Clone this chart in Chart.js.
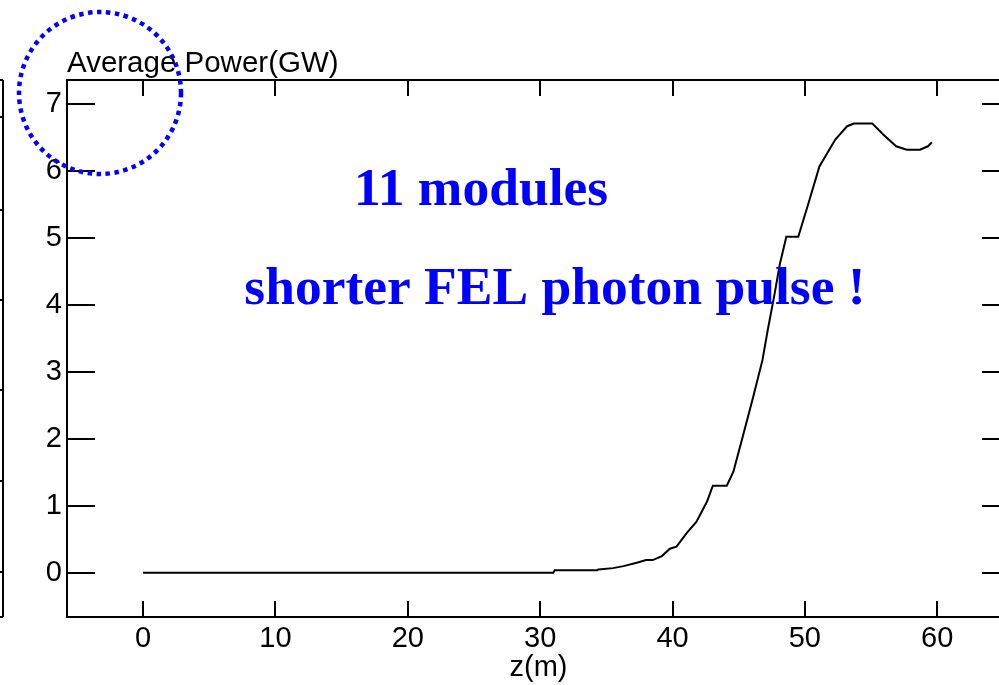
<!DOCTYPE html>
<html>
<head>
<meta charset="utf-8">
<script src="https://cdn.jsdelivr.net/npm/chart.js@4.4.1/dist/chart.umd.min.js"></script>
<style>
    html, body { margin: 0; padding: 0; background: #fff; overflow: hidden; }
    #wrap { width: 999px; height: 685px; overflow: hidden; position: relative; }
    #powerCanvas { position: absolute; left: 0; top: 0; }
</style>
</head>
<body>
<div id="wrap"><canvas id="powerCanvas" width="1012" height="685"></canvas></div>
<script>
// z position along the undulator (m)
const zValues = [0, 31, 31.1, 34.3, 34.4, 35.5, 36.3, 37.3, 38, 38.5, 39.2, 39.8, 40.3, 41.1, 41.8,
    42.6, 43.05, 44.1, 44.6, 45.3, 46.1, 46.8, 47.2, 47.7, 48.1, 48.6, 49.5, 50.2, 51.1, 52.3, 53.2,
    53.7, 55.1, 55.9, 56.9, 57.7, 58.7, 59.3, 59.6];
// average power (GW)
const powerValues = [0, 0, 0.04, 0.04, 0.05, 0.07, 0.1, 0.15, 0.19, 0.19, 0.25, 0.36, 0.39, 0.6, 0.76,
    1.06, 1.3, 1.3, 1.51, 2.03, 2.63, 3.18, 3.63, 4.15, 4.6, 5.02, 5.02, 5.47, 6.07, 6.47, 6.67,
    6.71, 6.71, 6.55, 6.37, 6.32, 6.32, 6.37, 6.43];
const xTickValues = [0, 10, 20, 30, 40, 50, 60];
const yTickValues = [0, 1, 2, 3, 4, 5, 6, 7];
const yAxisTitle = 'Average Power(GW)';
const xAxisTitle = 'z(m)';
const noteLines = ['11 modules', 'shorter FEL photon pulse !'];

const sansFont = 'Liberation Sans, Arial, sans-serif';

// frame, inward ticks, notes and the dotted circle
const framePlugin = {
    id: 'frame',
    afterDraw: function (chart) {
        const ctx = chart.ctx;
        const area = chart.chartArea;
        const xs = chart.scales.x;
        const ys = chart.scales.y;
        ctx.save();
        ctx.strokeStyle = '#000';
        ctx.lineWidth = 2;
        ctx.strokeRect(area.left, area.top, area.right - area.left, area.bottom - area.top);

        ctx.beginPath();
        xTickValues.forEach(function (v) {
            const px = Math.round(xs.getPixelForValue(v));
            ctx.moveTo(px, area.bottom); ctx.lineTo(px, area.bottom - 16);
            ctx.moveTo(px, area.top); ctx.lineTo(px, area.top + 16);
        });
        yTickValues.forEach(function (v) {
            const py = Math.round(ys.getPixelForValue(v));
            ctx.moveTo(area.left, py); ctx.lineTo(area.left + 28, py);
            ctx.moveTo(area.right, py); ctx.lineTo(area.right - 28, py);
        });
        ctx.stroke();

        // edge of the neighbouring panel
        ctx.beginPath();
        ctx.moveTo(3, area.top); ctx.lineTo(3, area.bottom);
        [area.top, 117, 210, 300, 390, 481, 572, area.bottom].forEach(function (py) {
            ctx.moveTo(0, py); ctx.lineTo(3, py);
        });
        ctx.stroke();

        ctx.fillStyle = '#000';
        ctx.font = '29.5px ' + sansFont;
        ctx.textAlign = 'left';
        ctx.textBaseline = 'alphabetic';
        ctx.fillText(yAxisTitle, area.left, 72);

        ctx.fillStyle = '#0000ff';
        ctx.font = 'bold 53.5px Liberation Serif, Times New Roman, serif';
        ctx.textAlign = 'center';
        ctx.fillText(noteLines[0], 481, 205);
        ctx.fillText(noteLines[1], 555, 304);

        ctx.strokeStyle = '#0000ff';
        ctx.lineWidth = 4.5;
        ctx.setLineDash([4.5, 4.5]);
        ctx.beginPath();
        ctx.arc(100, 93, 81, 0, Math.PI * 2);
        ctx.stroke();
        ctx.restore();
    }
};

const ctx = document.getElementById('powerCanvas');
new Chart(ctx, {
    type: 'scatter',
    data: {
        datasets: [{
            data: zValues.map(function (z, i) { return { x: z, y: powerValues[i] }; }),
            showLine: true,
            borderColor: '#000',
            borderWidth: 2,
            pointRadius: 0,
            tension: 0
        }]
    },
    options: {
        responsive: false,
        animation: false,
        devicePixelRatio: 1,
        layout: { padding: { top: 80, right: 2, left: 0, bottom: 0 } },
        plugins: { legend: { display: false }, tooltip: { enabled: false } },
        scales: {
            x: {
                type: 'linear',
                min: -5.75,
                max: 65.5,
                grid: { display: false, drawTicks: false },
                border: { display: false },
                ticks: {
                    stepSize: 10,
                    includeBounds: false,
                    padding: 5,
                    color: '#000',
                    maxRotation: 0,
                    font: { family: sansFont, size: 29 }
                },
                title: {
                    display: true,
                    text: xAxisTitle,
                    color: '#000',
                    padding: 0,
                    font: { family: sansFont, size: 29 }
                },
                afterFit: function (scale) { scale.height = 68; }
            },
            y: {
                min: -0.66,
                max: 7.36,
                grid: { display: false, drawTicks: false },
                border: { display: false },
                ticks: {
                    stepSize: 1,
                    includeBounds: false,
                    padding: 5,
                    color: '#000',
                    font: { family: sansFont, size: 29 }
                },
                afterFit: function (scale) { scale.width = 67; }
            }
        }
    },
    plugins: [framePlugin]
});
</script>
</body>
</html>
